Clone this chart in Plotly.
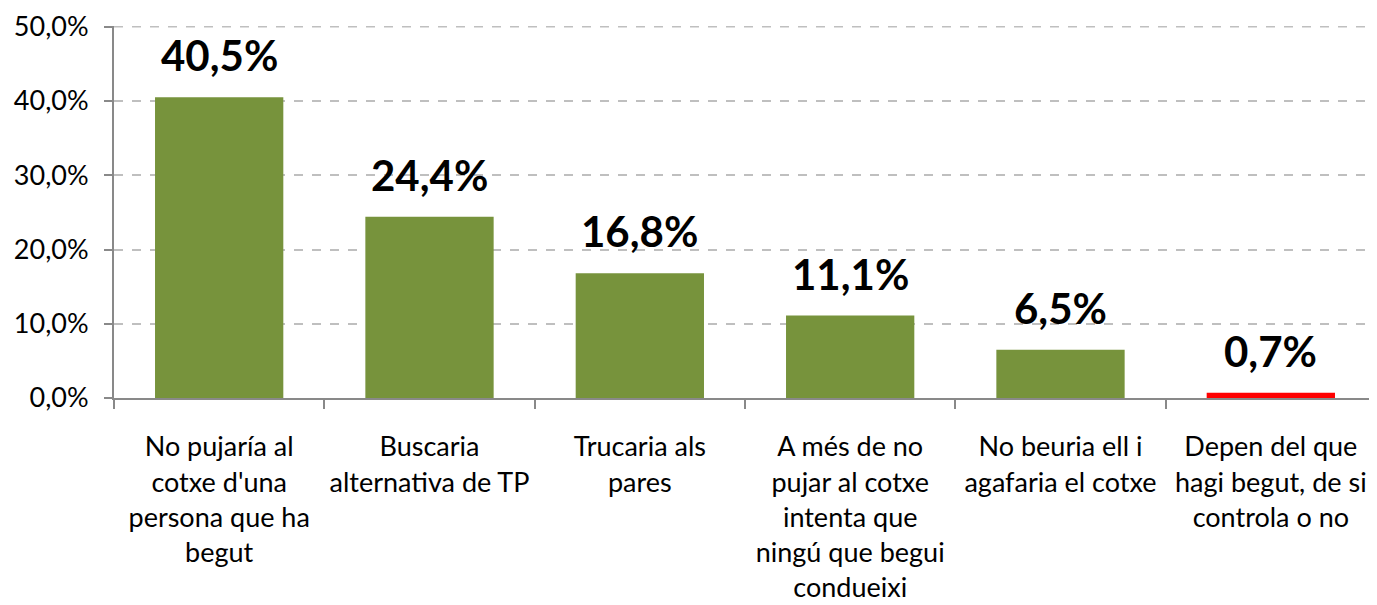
import plotly.graph_objects as go

categories = [
    "No pujaría al<br>cotxe d'una<br>persona que ha<br>begut",
    "Buscaria<br>alternativa de TP",
    "Trucaria als<br>pares",
    "A més de no<br>pujar al cotxe<br>intenta que<br>ningú que begui<br>condueixi",
    "No beuria ell i<br>agafaria el cotxe",
    "Depen del que<br>hagi begut, de si<br>controla o no",
]
values = [40.5, 24.4, 16.8, 11.1, 6.5, 0.7]
colors = ["#77933C", "#77933C", "#77933C", "#77933C", "#77933C", "#FF0000"]
y_ticks = [0, 10, 20, 30, 40, 50]

FONT = "Lato"

fig = go.Figure(go.Bar(
    x=categories, y=values, marker=dict(color=colors, line=dict(width=0)),
    width=0.61, hoverinfo="skip",
))

for c, v in zip(categories, values):
    fig.add_annotation(
        x=c, y=v, text="<b>" + f"{v:.1f}".replace(".", ",") + "%</b>",
        showarrow=False, yanchor="bottom", yshift=15,
        font=dict(family=FONT, size=42, color="black"),
    )

# top gridline (plotly omits the grid line at the range edge)
fig.add_shape(
    type="line", xref="paper", yref="y", x0=0, x1=1,
    y0=y_ticks[-1], y1=y_ticks[-1],
    line=dict(color="#BFBFBF", width=1.5, dash="dash"), layer="below",
)

fig.update_layout(
    width=1369, height=597,
    margin=dict(l=106, r=1, t=16, b=207),
    plot_bgcolor="white", paper_bgcolor="white",
    separators=",.",
    showlegend=False,
    font=dict(family=FONT, size=27, color="black"),
)
fig.update_xaxes(
    showline=True, linecolor="#898989", linewidth=2,
    ticks="outside", ticklen=9, tickcolor="#898989", tickwidth=2,
    tickson="boundaries", showgrid=False,
    tickfont=dict(family=FONT, size=27, color="black"),
    ticklabelstandoff=24,
)
fig.update_yaxes(
    range=[0, 50.1], tickvals=y_ticks,
    ticktext=[f"{t:.1f}".replace(".", ",") + "%" for t in y_ticks],
    showline=True, linecolor="#898989", linewidth=2,
    ticks="outside", ticklen=8, tickcolor="#898989", tickwidth=2,
    showgrid=True, gridcolor="#BFBFBF", griddash="dash", gridwidth=1.5,
    zeroline=False,
    tickfont=dict(family=FONT, size=27, color="black"),
    ticklabelstandoff=10,
    ticklabeloverflow="allow",
)

fig.write_html("out.html")
